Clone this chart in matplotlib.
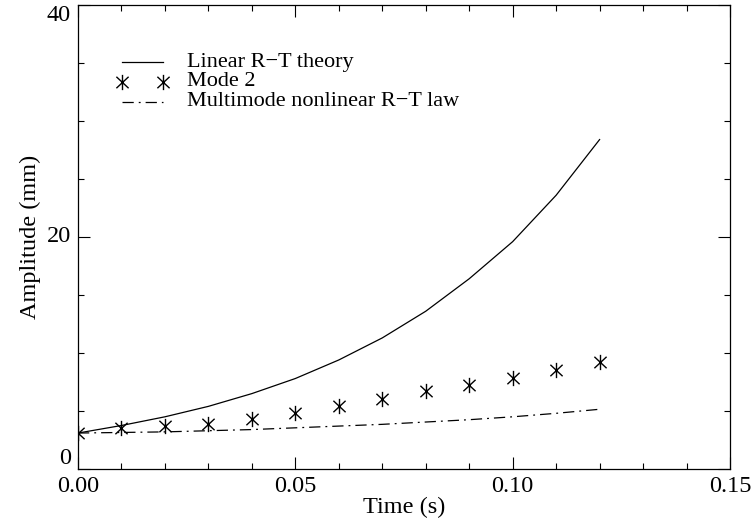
import matplotlib
matplotlib.use("Agg")
import matplotlib.pyplot as plt
from matplotlib.path import Path
from matplotlib.ticker import MultipleLocator

# ---- data ----
time_s = [0.00, 0.01, 0.02, 0.03, 0.04, 0.05, 0.06, 0.07, 0.08, 0.09, 0.10, 0.11, 0.12]
linear_rt = [3.1, 3.75, 4.5, 5.4, 6.5, 7.8, 9.4, 11.3, 13.6, 16.4, 19.6, 23.6, 28.4]
mode2 = [3.1, 3.5, 3.7, 3.9, 4.35, 4.85, 5.4, 6.05, 6.7, 7.2, 7.85, 8.5, 9.2]
multimode = [3.1, 3.15, 3.2, 3.3, 3.4, 3.55, 3.7, 3.85, 4.05, 4.25, 4.5, 4.8, 5.15]

labels = ["Linear R\u2212T theory", "Mode 2", "Multimode nonlinear R\u2212T law"]
xticks = [0.00, 0.05, 0.10, 0.15]
xticklabels = ["0.00", "0.05", "0.10", "0.15"]
yticks = [0, 20, 40]
yticklabels = ["0", "20", "40"]

plt.rcParams['font.family'] = ['Liberation Serif', 'DejaVu Serif']

W, H = 752, 527
AX_L, AX_R, AX_T, AX_B = 78, 730, 5, 469
fig = plt.figure(figsize=(W / 100, H / 100), dpi=100)
ax = fig.add_axes([AX_L / W, 1 - AX_B / H, (AX_R - AX_L) / W, (AX_B - AX_T) / H])

def ax_x(px):
    return (px - AX_L) / (AX_R - AX_L)

def ax_y(py):
    return 1 - (py - AX_T) / (AX_B - AX_T)

# IDL-like asterisk: vertical + two diagonals
ast = Path([(0, -1), (0, 1), (-0.8, -0.75), (0.8, 0.75), (-0.8, 0.75), (0.8, -0.75)],
           [Path.MOVETO, Path.LINETO, Path.MOVETO, Path.LINETO, Path.MOVETO, Path.LINETO])

LW = 0.9
DASHDOT = (0, (9, 4, 1.5, 4))
ax.plot(time_s, linear_rt, color='black', lw=LW)
ax.plot(time_s, mode2, linestyle='none', marker=ast, markersize=11,
        markeredgewidth=1.0, color='black')
ax.plot(time_s, multimode, color='black', lw=LW, linestyle=DASHDOT)

ax.set_xlim(0, 0.15)
ax.set_ylim(0, 40)
ax.set_xticks(xticks)
ax.set_xticklabels(xticklabels)
ax.set_yticks(yticks)
ax.set_yticklabels(yticklabels)
ax.xaxis.set_minor_locator(MultipleLocator(0.01))
ax.yaxis.set_minor_locator(MultipleLocator(5))
ax.tick_params(which='both', direction='in', top=True, right=True, labelsize=17.5,
               width=0.8, color='black')
ax.tick_params(which='major', length=8.5)
ax.tick_params(which='minor', length=4)
ax.tick_params(axis='x', which='major', pad=5)
ax.tick_params(axis='y', which='major', pad=5)
for lbl, va in zip(ax.get_yticklabels(), ['bottom', 'center', 'top']):
    lbl.set_verticalalignment(va)
for s in ax.spines.values():
    s.set_linewidth(0.9)

ax.set_xlabel("Time (s)", fontsize=17.5, labelpad=0)
ax.set_ylabel("Amplitude (mm)", fontsize=17.5, labelpad=4)

# ---- legend (drawn as a key in axes coordinates) ----
hx0, hx1, tx = ax_x(122), ax_x(163), ax_x(187)
rows_handle = [62.0, 82.0, 102.0]
rows_base = [66.5, 86.5, 106.5]
kw = dict(transform=ax.transAxes, clip_on=False, color='black')
ax.plot([hx0, hx1], [ax_y(rows_handle[0])] * 2, lw=LW, **kw)
ax.plot([hx0, hx1], [ax_y(rows_handle[1])] * 2, linestyle='none', marker=ast,
        markersize=11, markeredgewidth=1.0, **kw)
ax.plot([hx0, hx1], [ax_y(rows_handle[2])] * 2, lw=LW, linestyle=DASHDOT, **kw)
for lab, yb in zip(labels, rows_base):
    ax.text(tx, ax_y(yb), lab, transform=ax.transAxes, fontsize=16,
            ha='left', va='baseline')

fig.savefig("out.png", dpi=100)
